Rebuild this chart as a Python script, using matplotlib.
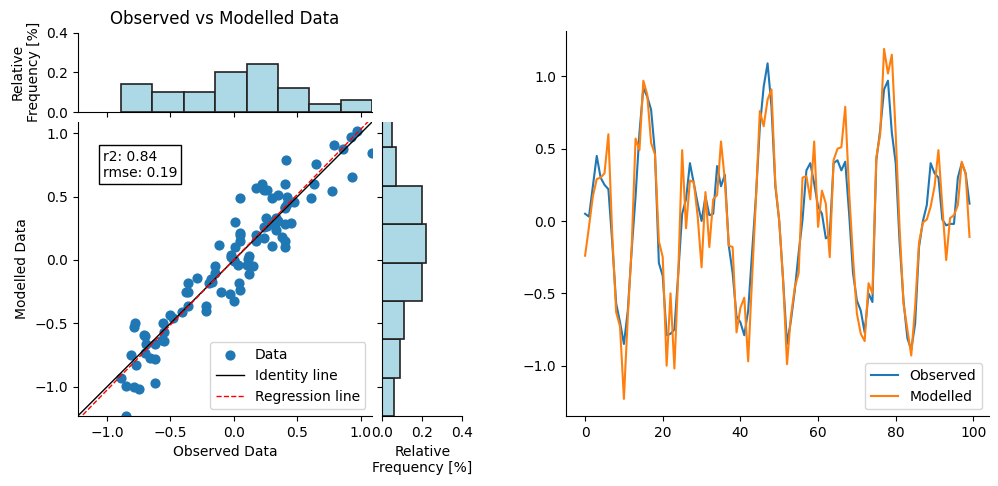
'''
observed vs modelled: scatter with marginal histograms, plus time series
'''

import numpy as np
import matplotlib.pyplot as plt

observed = [
    0.05, 0.03, 0.24, 0.45, 0.30, 0.25, 0.22, -0.15, -0.57, -0.70,
    -0.85, -0.62, -0.20, 0.17, 0.61, 0.92, 0.86, 0.77, 0.47, -0.29,
    -0.38, -0.79, -0.78, -0.75, -0.36, 0.05, 0.15, 0.40, 0.26, 0.12,
    0.00, 0.17, 0.04, 0.05, 0.38, 0.24, 0.32, -0.17, -0.36, -0.66,
    -0.70, -0.79, -0.62, -0.22, 0.17, 0.65, 0.93, 1.09, 0.79, 0.24,
    0.00, -0.41, -0.85, -0.69, -0.48, -0.22, 0.01, 0.35, 0.40, 0.26,
    0.10, 0.05, -0.12, -0.10, 0.40, 0.42, 0.35, 0.41, 0.05, -0.36,
    -0.55, -0.62, -0.77, -0.50, -0.56, 0.42, 0.63, 0.91, 0.97, 0.61,
    0.40, -0.15, -0.55, -0.81, -0.89, -0.71, -0.18, 0.00, 0.11, 0.40,
    0.33, 0.30, 0.01, -0.03, -0.02, -0.02, 0.30, 0.40, 0.33, 0.12,
]

modelled = [
    -0.24, -0.04, 0.17, 0.29, 0.30, 0.33, 0.60, -0.10, -0.63, -0.73,
    -1.23, -0.66, -0.18, 0.57, 0.49, 0.97, 0.875, 0.54, 0.46, -0.14,
    -0.25, -1.00, -0.50, -1.02, -0.36, 0.49, -0.05, 0.28, 0.27, 0.03,
    -0.32, 0.20, -0.18, 0.15, 0.18, 0.55, 0.28, -0.17, -0.18, -0.77,
    -0.60, -0.53, -0.97, -0.40, 0.15, 0.76, 0.655, 0.84, 0.91, 0.26,
    0.00, -0.41, -0.99, -0.66, -0.46, -0.36, 0.30, 0.31, 0.15, 0.55,
    -0.04, 0.21, 0.12, -0.25, 0.42, 0.50, 0.51, 0.79, 0.20, -0.25,
    -0.64, -0.78, -0.83, -0.43, -0.50, 0.44, 0.60, 1.19, 1.02, 1.15,
    0.60, -0.05, -0.57, -0.75, -0.93, -0.59, -0.15, -0.01, 0.01, 0.10,
    0.24, 0.49, 0.10, -0.27, 0.02, 0.04, 0.11, 0.41, 0.33, -0.11,
]

# relative frequencies (8 bins each)
obs_freq = [0.14, 0.10, 0.10, 0.20, 0.24, 0.12, 0.04, 0.06]
mod_freq = [0.06, 0.09, 0.11, 0.20, 0.22, 0.20, 0.07, 0.05]  # bottom to top

r2 = 0.84
rmse = 0.19

obs = np.array(observed)
mod = np.array(modelled)
lo = min(obs.min(), mod.min())
hi = obs.max()

obs_edges = np.linspace(obs.min(), obs.max(), len(obs_freq) + 1)
mod_edges = np.linspace(mod.min(), mod.max(), len(mod_freq) + 1)

slope, intercept = np.polyfit(obs, mod, 1)

fig = plt.figure(figsize=(9.98, 4.86), dpi=100)
ax = fig.add_axes([0.0779, 0.144, 0.2952, 0.6056])
ax_top = fig.add_axes([0.0779, 0.7695, 0.2952, 0.1632], sharex=ax)
ax_right = fig.add_axes([0.3831, 0.144, 0.0802, 0.6056], sharey=ax)
ax_ts = fig.add_axes([0.567, 0.1432, 0.4237, 0.7922])

# scatter
ax.scatter(obs, mod, s=40, color='tab:blue', label='Data', zorder=2)
ax.plot([lo, hi], [lo, hi], color='black', lw=1, label='Identity line')
xs = np.array([lo, hi])
ax.plot(xs, slope * xs + intercept, 'r--', lw=1, label='Regression line')
ax.set_xlim(lo, hi)
ax.set_ylim(lo, hi)
ax.set_xlabel('Observed Data')
ax.set_ylabel('Modelled Data')
ax.text(0.085, 0.905, f'r2: {r2:.2f}\nrmse: {rmse:.2f}', transform=ax.transAxes,
        va='top', ha='left',
        bbox=dict(boxstyle='square', facecolor='white', edgecolor='black'))
ax.legend(loc='lower right')
ax.spines['top'].set_visible(False)
ax.spines['right'].set_visible(False)

# top histogram
ax_top.bar(obs_edges[:-1], obs_freq, width=np.diff(obs_edges), align='edge',
           color='lightblue', edgecolor='#222222', linewidth=1.2)
ax_top.set_ylim(0, 0.4)
ax_top.set_yticks([0.0, 0.2, 0.4])
ax_top.set_ylabel('Relative\nFrequency [%]')
ax_top.set_title('Observed vs Modelled Data')
ax_top.tick_params(labelbottom=False)
ax_top.spines['top'].set_visible(False)
ax_top.spines['right'].set_visible(False)

# right histogram
ax_right.barh(mod_edges[:-1], mod_freq, height=np.diff(mod_edges), align='edge',
              color='lightblue', edgecolor='#222222', linewidth=1.2)
ax_right.set_xlim(0, 0.4)
ax_right.set_xticks([0.0, 0.2, 0.4])
ax_right.set_xlabel('Relative\nFrequency [%]')
ax_right.tick_params(labelleft=False)
ax_right.spines['top'].set_visible(False)
ax_right.spines['right'].set_visible(False)

# time series
t = np.arange(len(obs))
ax_ts.plot(t, obs, label='Observed')
ax_ts.plot(t, mod, label='Modelled')
ax_ts.legend(loc='lower right')
ax_ts.spines['top'].set_visible(False)
ax_ts.spines['right'].set_visible(False)

plt.savefig('out.png', dpi=100)
